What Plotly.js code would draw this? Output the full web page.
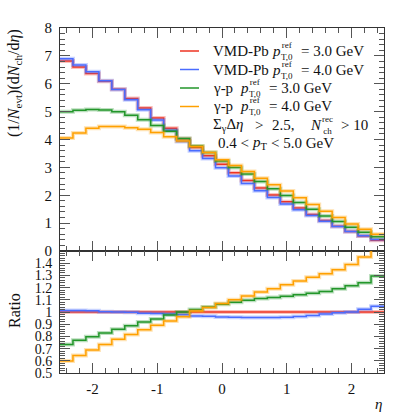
<!DOCTYPE html>
<html>
<head>
<meta charset="utf-8">
<script src="https://cdn.plot.ly/plotly-3.0.1.min.js"></script>
<style>html,body{margin:0;padding:0;background:#fff;}#chart{width:399px;height:413px;}</style>
</head>
<body>
<div id="chart"></div>
<script>
// bin edges in eta (25 bins of width 0.2)
const binEdges = [-2.5,-2.3,-2.1,-1.9,-1.7,-1.5,-1.3,-1.1,-0.9,-0.7,-0.5,-0.3,-0.1,0.1,0.3,0.5,0.7,0.9,1.1,1.3,1.5,1.7,1.9,2.1,2.3,2.5];

const seriesNames = ["VMD-Pb pT0=3.0", "VMD-Pb pT0=4.0", "γ-p pT0=3.0", "γ-p pT0=4.0"];

// (1/Nevt) dNch/deta
const vmdPb30 = [6.82,6.60,6.37,6.09,5.80,5.47,5.13,4.77,4.40,4.03,3.71,3.42,3.11,2.81,2.53,2.26,2.01,1.77,1.54,1.31,1.09,0.89,0.70,0.54,0.39];
const vmdPb40 = [6.90,6.67,6.43,6.11,5.79,5.43,5.07,4.70,4.33,3.93,3.60,3.32,2.99,2.69,2.42,2.16,1.92,1.69,1.48,1.27,1.07,0.88,0.70,0.55,0.41];
const gp30    = [5.00,5.05,5.08,5.06,5.00,4.87,4.71,4.50,4.30,4.04,3.77,3.53,3.23,3.00,2.76,2.49,2.23,1.99,1.74,1.50,1.26,1.06,0.85,0.67,0.51];
const gp40    = [4.05,4.23,4.40,4.47,4.47,4.42,4.37,4.25,4.10,3.95,3.75,3.53,3.27,3.07,2.85,2.61,2.38,2.15,1.91,1.67,1.43,1.20,0.97,0.78,0.60];

// ratios to VMD-Pb pT0=3.0
const ratioVmd30 = [1,1,1,1,1,1,1,1,1,1,1,1,1,1,1,1,1,1,1,1,1,1,1,1,1];
const ratioVmd40 = [1.012,1.012,1.010,1.003,1.000,0.998,0.990,0.988,0.983,0.977,0.967,0.966,0.960,0.957,0.955,0.954,0.954,0.957,0.963,0.972,0.984,0.993,1.000,1.022,1.047];
const ratioGp30  = [0.733,0.768,0.798,0.828,0.858,0.888,0.918,0.943,0.975,1.000,1.020,1.040,1.063,1.080,1.096,1.110,1.118,1.129,1.141,1.153,1.168,1.190,1.215,1.240,1.295];
const ratioGp40  = [0.598,0.643,0.689,0.733,0.776,0.815,0.855,0.891,0.926,0.962,1.008,1.036,1.069,1.100,1.131,1.164,1.190,1.223,1.254,1.285,1.313,1.347,1.390,1.450,1.550];

const topTicks = [0,1,2,3,4,5,6,7,8];
const ratioTicks = [0.5,0.6,0.7,0.8,0.9,1.0,1.1,1.2,1.3,1.4];
const ratioTickText = ["0.5","0.6","0.7","0.8","0.9","1","1.1","1.2","1.3","1.4"];
const xTicks = [-2,-1,0,1,2];
const xTickText = ["-2","-1","0","1","2"];

const colors = ["#ee3322","#4a6cff","#22962a","#ffa000"];
const topData = [vmdPb30, vmdPb40, gp30, gp40];
const ratioData = [ratioVmd30, ratioVmd40, ratioGp30, ratioGp40];

function stepY(v){ return v.concat([v[v.length-1]]); }

const traces = [];
function addSeries(vals, color, xa, ya){
  traces.push({x: binEdges, y: stepY(vals), xaxis: xa, yaxis: ya, mode: 'lines',
    line: {shape: 'hv', color: color, width: 4}, opacity: 0.3, hoverinfo: 'skip', showlegend: false});
  traces.push({x: binEdges, y: stepY(vals), xaxis: xa, yaxis: ya, mode: 'lines',
    line: {shape: 'hv', color: color, width: 1.5}, showlegend: false});
}
for (let i = 0; i < 4; i++) addSeries(topData[i], colors[i], 'x', 'y');
for (let i = 0; i < 4; i++) addSeries(ratioData[i], colors[i], 'x2', 'y2');

// geometry helpers (pixel -> paper)
const L = 60, R = 384, T = 28, B = 373;
const px = v => (v - L) / (R - L);
const py = v => (B - v) / (B - T);
const FONT = "Liberation Serif";
const splitFrac = py(251);

const axisCommon = {
  showline: true, linecolor: '#333', linewidth: 1, mirror: 'allticks',
  ticks: 'inside', ticklen: 10, tickcolor: '#555', tickwidth: 1,
  showgrid: false, zeroline: false,
  tickfont: {family: FONT, size: 15, color: '#111'}
};

const annotations = [];
function ann(text, x, y, opts){
  annotations.push(Object.assign({text: text, x: px(x), y: py(y), xref: 'paper', yref: 'paper',
    showarrow: false, xanchor: 'left', yanchor: 'middle', borderpad: 0,
    font: {family: FONT, size: 15, color: '#111'}}, opts || {}));
}
const SMALL = {family: FONT, size: 9, color: '#111'};
const shapes = [];
const rowsY = [51, 69.5, 88, 106.5];
const prefixes = ["VMD-Pb", "VMD-Pb", "γ-p", "γ-p"];
const pX = [271, 271, 239, 239];
const supX = [280, 280, 248, 248];
const restX = [300, 300, 268, 268];
const restText = ["= 3.0 GeV", "= 4.0 GeV", "= 3.0 GeV", "= 4.0 GeV"];
for (let i = 0; i < 4; i++){
  shapes.push({type: 'line', xref: 'paper', yref: 'paper', x0: px(180), x1: px(199), y0: py(rowsY[i]), y1: py(rowsY[i]),
    line: {color: colors[i], width: 1.5}});
  ann(prefixes[i], 212, rowsY[i]);
  ann("<i>p</i>", pX[i], rowsY[i]);
  ann("ref<br>T,0", supX[i], rowsY[i], {font: SMALL});
  ann(restText[i], restX[i], rowsY[i]);
}
ann("Σ<sub>γ</sub>Δ<i>η</i>", 212, 125);
ann("&gt;", 254, 125);
ann("2.5,", 271, 125);
ann("<i>N</i>", 309, 125);
ann("rec<br>ch", 321, 125, {font: SMALL});
ann("&gt; 10", 340, 125);
ann("0.4 &lt;", 217, 143);
ann("<i>p</i><sub>T</sub>", 251, 143);
ann("&lt; 5.0 GeV", 270, 143);

// axis titles
ann("(1/<i>N</i><sub>evt</sub>)(d<i>N</i><sub>ch</sub>/d<i>η</i>)", 14, 28, {textangle: -90, xanchor: 'center', yanchor: 'top',
  font: {family: FONT, size: 16, color: '#111'}});
ann("Ratio", 14, 311, {textangle: -90, xanchor: 'center', yanchor: 'middle', font: {family: FONT, size: 16, color: '#111'}});
ann("<i>η</i>", 378, 404, {xanchor: 'center'});

const layout = {
  width: 399, height: 413,
  margin: {l: L, r: 399 - R, t: T, b: 413 - B, pad: 0},
  paper_bgcolor: '#fff', plot_bgcolor: '#fff',
  showlegend: false,
  font: {family: FONT},
  xaxis: Object.assign({}, axisCommon, {domain: [0,1], anchor: 'y', range: [-2.5, 2.5],
    tickmode: 'array', tickvals: xTicks, showticklabels: false,
    minor: {dtick: 0.2, tick0: 0, ticklen: 5, ticks: 'inside', tickcolor: '#555', showgrid: false}}),
  yaxis: Object.assign({}, axisCommon, {domain: [splitFrac, 1], anchor: 'x', range: [0, 8],
    tickmode: 'array', tickvals: topTicks, ticklabelstandoff: 4,
    minor: {dtick: 0.2, tick0: 0, ticklen: 5, ticks: 'inside', tickcolor: '#555', showgrid: false}}),
  xaxis2: Object.assign({}, axisCommon, {domain: [0,1], anchor: 'y2', range: [-2.5, 2.5],
    tickmode: 'array', tickvals: xTicks, ticktext: xTickText, ticklabelstandoff: 2,
    minor: {dtick: 0.2, tick0: 0, ticklen: 5, ticks: 'inside', tickcolor: '#555', showgrid: false}}),
  yaxis2: Object.assign({}, axisCommon, {domain: [0, splitFrac], anchor: 'x2', range: [0.5, 1.5],
    tickmode: 'array', tickvals: ratioTicks, ticktext: ratioTickText, ticklabelstandoff: 4,
    tickfont: {family: FONT, size: 14, color: '#111'},
    minor: {dtick: 0.02, tick0: 0.5, ticklen: 5, ticks: 'inside', tickcolor: '#555', showgrid: false}}),
  annotations: annotations,
  shapes: shapes
};

Plotly.newPlot('chart', traces, layout, {staticPlot: true, displayModeBar: false});
</script>
</body>
</html>
